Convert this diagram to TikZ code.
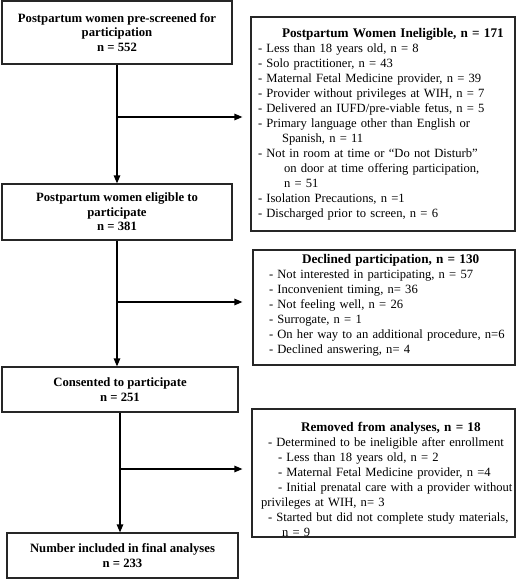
\documentclass[tikz,border=0pt]{standalone}
\usepackage{fontspec}
\setmainfont{Liberation Serif}
\usetikzlibrary{arrows.meta}
\newcommand\rowtxt[1]{\makebox[0pt][l]{#1}}
\newcommand\ttltxt[1]{{\fontsize{13.2}{15}\selectfont\bfseries #1}}
\begin{document}
\begin{tikzpicture}[x=1pt,y=-1pt,
  box/.style={draw=black!85,line width=1.2pt,inner sep=0pt,align=center,
    font=\fontsize{12.7}{14.5}\selectfont\bfseries},
  side/.style={draw=black!85,line width=1.2pt,inner ysep=0pt,align=left,
    font=\fontsize{12.6}{15}\selectfont},
  arr/.style={line width=1.2pt,-{Triangle[length=8pt,width=6.5pt]}}]
\useasboundingbox (0,0) rectangle (517,580);

\node[box,minimum width=230pt,minimum height=63pt] (n1) at (117,32.5)
  {Postpartum women pre-screened for\\participation\\n = 552};
\node[box,minimum width=230pt,minimum height=56pt] (n2) at (117,212)
  {Postpartum women eligible to\\participate\\n = 381};
\node[box,minimum width=236pt,minimum height=45pt] (n3) at (120,389.5)
  {Consented to participate\\n = 251};
\node[box,minimum width=231pt,minimum height=45pt] (n4) at (122.5,555.5)
  {Number included in final analyses\\n = 233};

\node[side,minimum width=264pt,minimum height=214pt,inner xsep=7pt,text width=250pt] (r1) at (383,124)
  {\rowtxt{\hspace*{24pt}\ttltxt{Postpartum Women Ineligible, n = 171}}\\
   \rowtxt{- Less than 18 years old, n = 8}\\
   \rowtxt{- Solo practitioner, n = 43}\\
   \rowtxt{- Maternal Fetal Medicine provider, n = 39}\\
   \rowtxt{- Provider without privileges at WIH, n = 7}\\
   \rowtxt{- Delivered an IUFD/pre-viable fetus, n = 5}\\
   \rowtxt{- Primary language other than English or}\\
   \rowtxt{\hspace*{24pt}Spanish, n = 11}\\
   \rowtxt{- Not in room at time or “Do not Disturb”}\\
   \rowtxt{\hspace*{26pt}on door at time offering participation,}\\
   \rowtxt{\hspace*{26pt}n = 51}\\
   \rowtxt{- Isolation Precautions, n =1}\\
   \rowtxt{- Discharged prior to screen, n = 6}};

\node[side,minimum width=262pt,minimum height=115pt,inner xsep=16pt,text width=230pt] (r2) at (384,307.5)
  {\rowtxt{\hspace*{33pt}\ttltxt{Declined participation, n = 130}}\\
   \rowtxt{- Not interested in participating, n = 57}\\
   \rowtxt{- Inconvenient timing, n= 36}\\
   \rowtxt{- Not feeling well, n = 26}\\
   \rowtxt{- Surrogate, n = 1}\\
   \rowtxt{- On her way to an additional procedure, n=6}\\
   \rowtxt{- Declined answering, n= 4}\rule[-7pt]{0pt}{7pt}};

\node[side,minimum width=263pt,minimum height=128pt,inner xsep=9pt,text width=245pt] (r3) at (383.5,473)
  {\rule{0pt}{23pt}\rowtxt{\hspace*{40pt}\ttltxt{Removed from analyses, n = 18}}\\
   \rowtxt{\hspace*{7pt}- Determined to be ineligible after enrollment}\\
   \rowtxt{\hspace*{17pt}- Less than 18 years old, n = 2}\\
   \rowtxt{\hspace*{17pt}- Maternal Fetal Medicine provider, n =4}\\
   \rowtxt{\hspace*{17pt}- Initial prenatal care with a provider without}\\
   \rowtxt{privileges at WIH, n= 3}\\
   \rowtxt{\hspace*{7pt}- Started but did not complete study materials,}\\
   \rowtxt{\hspace*{21pt}n = 9}};

\draw[arr] (n1.south) -- (n2.north);
\draw[arr] (n2.south) -- (n2.south |- n3.north);
\draw[arr] (n3.south) -- (n3.south |- n4.north);

\coordinate (c1) at (117,117);
\coordinate (c2) at (117,302);
\coordinate (c3) at (120,469);
\draw[arr,shorten >=8pt] (c1) -- (c1 -| r1.west);
\draw[arr,shorten >=10pt] (c2) -- (c2 -| r2.west);
\draw[arr,shorten >=9pt] (c3) -- (c3 -| r3.west);
\end{tikzpicture}
\end{document}
